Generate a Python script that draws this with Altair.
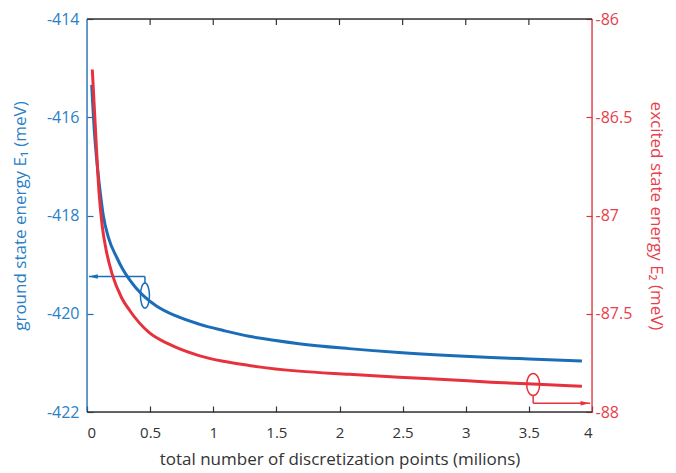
import altair as alt
import pandas as pd

# ---------------- data ----------------
x_blue = [0.037, 0.06, 0.08, 0.103, 0.129, 0.17, 0.235, 0.28, 0.327, 0.39, 0.459, 0.55,
          0.70, 0.887, 1.08, 1.283, 1.48, 1.679, 2.075, 2.471, 2.867, 3.2, 3.5, 3.92]
e1 = [-415.34, -416.35, -416.95, -417.49, -418.0, -418.45, -418.85, -419.08, -419.27,
      -419.48, -419.66, -419.84, -420.04, -420.21, -420.34, -420.46, -420.54, -420.61,
      -420.71, -420.79, -420.85, -420.89, -420.92, -420.96]

x_red = [0.042, 0.07, 0.095, 0.12, 0.15, 0.2, 0.275, 0.341, 0.491, 0.65, 0.887, 1.08,
         1.283, 1.679, 2.075, 2.471, 2.867, 3.2, 3.53, 3.92]
e2 = [-86.257, -86.6, -86.88, -87.05, -87.17, -87.30, -87.42, -87.486, -87.595, -87.655,
      -87.713, -87.742, -87.763, -87.792, -87.808, -87.823, -87.836, -87.848, -87.858,
      -87.869]

x_ticks = [0, 0.5, 1, 1.5, 2, 2.5, 3, 3.5, 4]
e1_ticks = [-422, -420, -418, -416, -414]
e2_ticks = [-88, -87.5, -87, -86.5, -86]

# annotation markers (ellipse centres and arrow corners)
blue_mark_x, blue_mark_y = [0.459], [-419.63]
blue_arrow_x, blue_arrow_x_end = [0.459], [0.015]
blue_arrow_y_start, blue_arrow_y = [-419.38], [-419.24]
blue_head_x = [0.05]

red_mark_x, red_mark_y = [3.534], [-87.86]
red_arrow_x, red_arrow_x_end = [3.534], [3.985]
red_arrow_y_start, red_arrow_y = [-87.915], [-87.955]
red_head_x = [3.945]

# ---------------- styling ----------------
BLUE = "#1c6db8"
BLUE_TXT = "#2a7fc6"
RED = "#e6323c"
RED_TXT = "#e8404b"
DARK = "#333333"
FONT = "Open Sans"
W, H = 505, 393

xscale = alt.Scale(domain=[0, 4], nice=False, zero=False)
y1scale = alt.Scale(domain=[-422, -414], nice=False, zero=False)
y2scale = alt.Scale(domain=[-88, -86], nice=False, zero=False)

xaxis = alt.Axis(orient="bottom", values=x_ticks, offset=-6, tickSize=6, domain=False,
                 grid=False, labelExpr="'' + datum.value", labelFont=FONT, labelFontSize=15,
                 labelColor=DARK, tickColor=DARK, tickWidth=1.2, labelPadding=13,
                 title="total number of discretization points (milions)", titleFont=FONT,
                 titleFontSize=17, titleFontWeight="normal", titleColor=DARK, titlePadding=11)
y1axis = alt.Axis(orient="left", values=e1_ticks, offset=-6, tickSize=6, domain=False,
                  grid=False, labelExpr="'' + datum.value", labelFont=FONT, labelFontSize=16,
                  labelColor=BLUE_TXT, tickColor=BLUE, tickWidth=1.2, labelPadding=8,
                  title="ground state energy E\u2081 (meV)", titleFont=FONT, titleFontSize=17,
                  titleFontWeight="normal", titleColor=BLUE_TXT, titlePadding=17)
y2axis = alt.Axis(orient="right", values=e2_ticks, offset=-6, tickSize=6, domain=False,
                  grid=False, labelExpr="'' + datum.value", labelFont=FONT, labelFontSize=16,
                  labelColor=RED_TXT, tickColor=RED, tickWidth=1.2, labelPadding=3,
                  title="excited state energy E\u2082 (meV)", titleFont=FONT, titleFontSize=17,
                  titleFontWeight="normal", titleColor=RED_TXT, titlePadding=15, titleAngle=90)


def ellipse_path(a):
    k = 0.5523
    return (f"M 0 -1 C {k*a:.4f} -1 {a} -{k} {a} 0 C {a} {k} {k*a:.4f} 1 0 1 "
            f"C -{k*a:.4f} 1 -{a} {k} -{a} 0 C -{a} -{k} -{k*a:.4f} -1 0 -1 Z")


HEAD_LEFT = "M -1 0 L 1 -0.5 L 1 0.5 Z"
HEAD_RIGHT = "M 1 0 L -1 -0.5 L -1 0.5 Z"

one = pd.DataFrame({"a": [0]})

# ---------------- frame ----------------
left_line = alt.Chart(one).mark_rule(color=BLUE, strokeWidth=1.3).encode(
    x=alt.value(0), y=alt.value(0), y2=alt.value(H))
right_line = alt.Chart(one).mark_rule(color=RED, strokeWidth=1.3).encode(
    x=alt.value(W), y=alt.value(0), y2=alt.value(H))
top_line = alt.Chart(one).mark_rule(color=DARK, strokeWidth=1.3).encode(
    y=alt.value(0), x=alt.value(0), x2=alt.value(W))
bottom_line = alt.Chart(one).mark_rule(color=DARK, strokeWidth=1.3).encode(
    y=alt.value(H), x=alt.value(0), x2=alt.value(W))
top_ticks = alt.Chart(pd.DataFrame({"x": x_ticks[1:-1]})).mark_rule(
    color=DARK, strokeWidth=1.2).encode(
    x=alt.X("x:Q", scale=xscale, axis=xaxis), y=alt.value(0), y2=alt.value(6))

# ---------------- blue (left axis) ----------------
bdf = pd.DataFrame({"x": x_blue, "E1": e1})
blue_line = alt.Chart(bdf).mark_line(color=BLUE, strokeWidth=3, interpolate="monotone").encode(
    x=alt.X("x:Q", scale=xscale, axis=xaxis),
    y=alt.Y("E1:Q", scale=y1scale, axis=y1axis))
blue_ell = alt.Chart(pd.DataFrame({"x": blue_mark_x, "E1": blue_mark_y})).mark_point(
    shape=ellipse_path(0.36), size=625, filled=False, color=BLUE, strokeWidth=1.5, opacity=1).encode(
    x=alt.X("x:Q", scale=xscale, axis=xaxis), y=alt.Y("E1:Q", scale=y1scale, axis=y1axis))
blue_v = alt.Chart(pd.DataFrame({"x": blue_arrow_x, "E1": blue_arrow_y_start,
                                 "E1b": blue_arrow_y})).mark_rule(color=BLUE, strokeWidth=1.5).encode(
    x=alt.X("x:Q", scale=xscale, axis=xaxis), y=alt.Y("E1:Q", scale=y1scale, axis=y1axis),
    y2="E1b:Q")
blue_h = alt.Chart(pd.DataFrame({"x": blue_arrow_x, "xe": blue_arrow_x_end,
                                 "E1": blue_arrow_y})).mark_rule(color=BLUE, strokeWidth=1.5).encode(
    x=alt.X("x:Q", scale=xscale, axis=xaxis), x2="xe:Q",
    y=alt.Y("E1:Q", scale=y1scale, axis=y1axis))
blue_head = alt.Chart(pd.DataFrame({"x": blue_head_x, "E1": blue_arrow_y})).mark_point(
    shape=HEAD_LEFT, size=81, filled=True, color=BLUE, opacity=1).encode(
    x=alt.X("x:Q", scale=xscale, axis=xaxis), y=alt.Y("E1:Q", scale=y1scale, axis=y1axis))

blue_layer = alt.layer(left_line, right_line, top_line, bottom_line, top_ticks,
                       blue_line, blue_ell, blue_v, blue_h, blue_head)

# ---------------- red (right axis) ----------------
rdf = pd.DataFrame({"x": x_red, "E2": e2})
red_line = alt.Chart(rdf).mark_line(color=RED, strokeWidth=3, interpolate="monotone").encode(
    x=alt.X("x:Q", scale=xscale, axis=xaxis),
    y=alt.Y("E2:Q", scale=y2scale, axis=y2axis))
red_ell = alt.Chart(pd.DataFrame({"x": red_mark_x, "E2": red_mark_y})).mark_point(
    shape=ellipse_path(0.59), size=484, filled=False, color=RED, strokeWidth=1.5, opacity=1).encode(
    x=alt.X("x:Q", scale=xscale, axis=xaxis), y=alt.Y("E2:Q", scale=y2scale, axis=y2axis))
red_v = alt.Chart(pd.DataFrame({"x": red_arrow_x, "E2": red_arrow_y_start,
                                "E2b": red_arrow_y})).mark_rule(color=RED, strokeWidth=1.5).encode(
    x=alt.X("x:Q", scale=xscale, axis=xaxis), y=alt.Y("E2:Q", scale=y2scale, axis=y2axis),
    y2="E2b:Q")
red_h = alt.Chart(pd.DataFrame({"x": red_arrow_x, "xe": red_arrow_x_end,
                                "E2": red_arrow_y})).mark_rule(color=RED, strokeWidth=1.5).encode(
    x=alt.X("x:Q", scale=xscale, axis=xaxis), x2="xe:Q",
    y=alt.Y("E2:Q", scale=y2scale, axis=y2axis))
red_head = alt.Chart(pd.DataFrame({"x": red_head_x, "E2": red_arrow_y})).mark_point(
    shape=HEAD_RIGHT, size=81, filled=True, color=RED, opacity=1).encode(
    x=alt.X("x:Q", scale=xscale, axis=xaxis), y=alt.Y("E2:Q", scale=y2scale, axis=y2axis))

red_layer = alt.layer(red_line, red_ell, red_v, red_h, red_head)

chart = alt.layer(blue_layer, red_layer).resolve_scale(y="independent").properties(
    width=W, height=H, autosize="none",
    padding={"left": 79, "top": 11, "right": 76, "bottom": 60},
).configure_view(stroke=None).configure(background="white")

chart.save("out.html", embed_options={"renderer": "svg", "actions": False})
